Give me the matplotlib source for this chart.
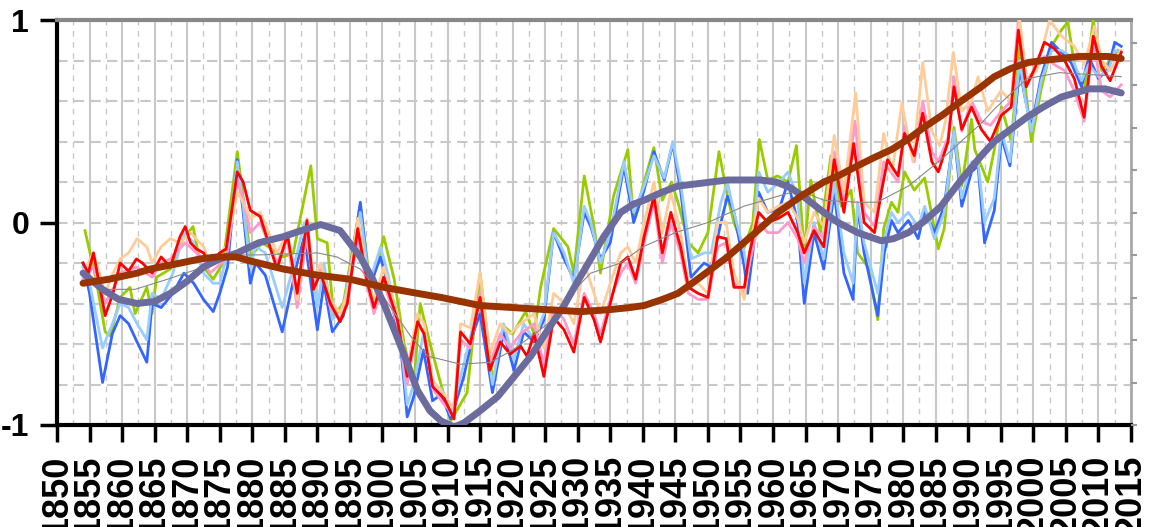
import numpy as np
import matplotlib.pyplot as plt

plt.rcParams['font.family'] = ['Liberation Sans', 'DejaVu Sans']

# Temperature anomaly series (year, value) at turning points
blue_years = [1854, 1855, 1857, 1858.5, 1859.7, 1861, 1862.3, 1863.8, 1864.6, 1866, 1867.8, 1869.5,
              1871, 1872.5, 1874, 1875, 1876.2, 1877.7, 1878.6, 1879.7, 1880.5, 1882, 1884.6, 1886.9,
              1888, 1890, 1891, 1892.3, 1894, 1896.6, 1898, 1899.7, 1900.8, 1902.8, 1903.8, 1904.8,
              1906.3, 1907.7, 1909, 1910.5, 1912.5, 1914, 1915, 1916.9, 1918.6, 1920.2, 1921.7, 1923.3,
              1924.8, 1926.3, 1927.9, 1929.4, 1931, 1932, 1933.5, 1935, 1937.1, 1938.6, 1940.2, 1941.7,
              1943.3, 1944.6, 1945.8, 1947.4, 1949.4, 1950.5, 1952, 1953, 1954, 1955.6, 1956.1, 1956.9,
              1957.8, 1959.2, 1961, 1962.3, 1963.8, 1964.8, 1966.3, 1967.8, 1969.4, 1970.9, 1972.3, 1973,
              1974, 1976.1, 1977.1, 1978.2, 1979.2, 1980.8, 1982.3, 1983.3, 1984.8, 1986.3, 1987.8, 1989,
              1990.5, 1991.5, 1992.5, 1994, 1995.1, 1996.4, 1997.9, 1998.7, 1999.7, 2001.2, 2002.8, 2004.3,
              2005.8, 2007.4, 2008.5, 2010, 2011.5, 2012.5, 2013.5]
blue = [-0.20, -0.35, -0.79, -0.55, -0.46, -0.50, -0.59, -0.69, -0.40, -0.42, -0.35, -0.25,
        -0.30, -0.38, -0.44, -0.35, -0.22, 0.31, 0.05, -0.30, -0.20, -0.26, -0.54, -0.20,
        -0.07, -0.53, -0.30, -0.54, -0.46, 0.10, -0.32, -0.17, -0.30, -0.61, -0.96, -0.86,
        -0.63, -0.88, -0.85, -0.97, -0.76, -0.54, -0.45, -0.84, -0.54, -0.73, -0.54, -0.59,
        -0.48, -0.05, -0.18, -0.28, 0.05, -0.02, -0.18, -0.10, 0.28, 0.00, 0.16, 0.35,
        0.21, 0.39, 0.16, -0.27, -0.20, -0.22, 0.00, 0.13, 0.05, -0.22, -0.35, -0.15,
        0.15, 0.05, 0.07, 0.20, 0.00, -0.40, -0.05, -0.23, 0.15, -0.25, -0.38, 0.08,
        -0.15, -0.46, -0.15, 0.01, -0.05, 0.01, -0.08, 0.06, -0.05, 0.08, 0.44, 0.08,
        0.25, 0.28, -0.10, 0.06, 0.42, 0.28, 0.76, 0.62, 0.47, 0.72, 0.89, 0.84,
        0.79, 0.67, 0.82, 0.71, 0.76, 0.89, 0.87]
lightblue = [-0.22, -0.30, -0.62, -0.50, -0.40, -0.42, -0.50, -0.58, -0.35, -0.38, -0.25, -0.05,
             -0.10, -0.25, -0.30, -0.30, -0.15, 0.30, 0.08, -0.22, -0.12, -0.15, -0.42, -0.15,
             0.00, -0.42, -0.20, -0.48, -0.42, 0.05, -0.30, -0.12, -0.25, -0.58, -0.90, -0.80,
             -0.55, -0.80, -0.82, -0.95, -0.70, -0.50, -0.38, -0.80, -0.50, -0.68, -0.50, -0.58,
             -0.45, -0.05, -0.15, -0.30, 0.08, 0.00, -0.20, -0.05, 0.30, 0.05, 0.18, 0.33,
             0.22, 0.40, 0.20, -0.18, -0.15, -0.15, 0.10, 0.20, 0.05, -0.15, -0.25, -0.10,
             0.25, 0.15, 0.20, 0.25, 0.12, -0.30, 0.00, -0.18, 0.20, -0.15, -0.30, 0.10,
             -0.10, -0.35, -0.08, 0.05, 0.00, 0.05, -0.02, 0.08, -0.08, 0.05, 0.45, 0.12,
             0.30, 0.30, 0.00, 0.12, 0.45, 0.30, 0.80, 0.62, 0.45, 0.70, 0.85, 0.85,
             0.82, 0.70, 0.78, 0.72, 0.75, 0.85, 0.84]

green_years = [1854.3, 1856, 1857.4, 1858.2, 1859.7, 1861.2, 1862, 1863.8, 1864.6, 1865.3, 1867.4, 1869.4,
               1870.9, 1872, 1874, 1875.5, 1877.7, 1878.9, 1879.7, 1881.5, 1884.8, 1886.3, 1889, 1890,
               1891.5, 1892.5, 1894, 1896.6, 1898.2, 1900.2, 1901.8, 1903.3, 1904.8, 1905.8, 1907.4, 1909,
               1910.5, 1913, 1915, 1917, 1918.6, 1920, 1922, 1923.3, 1924.3, 1926.3, 1928.5, 1929.4,
               1931, 1932.5, 1933.5, 1935.5, 1937.7, 1938.6, 1940.2, 1941.7, 1943, 1944.4, 1945.4, 1947,
               1948.5, 1950, 1951.7, 1953, 1954, 1955.5, 1956.9, 1957.9, 1959.2, 1960.7, 1962.3, 1963.6,
               1964.8, 1965.8, 1967.3, 1968.9, 1970.5, 1972, 1973, 1974.6, 1976.1, 1977, 1978.2, 1979.2,
               1980.2, 1981.7, 1983.3, 1985.4, 1986.3, 1987.8, 1989, 1990.5, 1991, 1993, 1994, 1995.1,
               1996.6, 1997.9, 1998.7, 1999.7, 2001.2, 2002.8, 2004.3, 2005.3, 2006.3, 2007.8, 2009.2, 2010.5,
               2011.8, 2013]
green = [-0.04, -0.28, -0.54, -0.56, -0.37, -0.32, -0.45, -0.32, -0.45, -0.27, -0.23, -0.08,
         -0.02, -0.20, -0.28, -0.20, 0.35, 0.05, -0.17, -0.10, -0.17, -0.15, 0.28, -0.08,
         -0.10, -0.46, -0.40, 0.09, -0.33, -0.07, -0.28, -0.59, -0.81, -0.40, -0.61, -0.80,
         -0.98, -0.84, -0.25, -0.79, -0.51, -0.55, -0.44, -0.55, -0.32, -0.03, -0.12, -0.25,
         0.23, -0.02, -0.25, 0.13, 0.36, 0.01, 0.20, 0.37, 0.11, 0.20, 0.10, -0.10,
         -0.15, -0.05, 0.35, 0.13, 0.00, -0.13, 0.00, 0.41, 0.21, 0.23, 0.20, 0.38,
         -0.15, 0.21, -0.05, 0.33, 0.08, 0.16, -0.15, -0.22, -0.48, -0.03, 0.10, 0.05,
         0.25, 0.16, 0.22, -0.13, -0.03, 0.47, 0.18, 0.51, 0.36, 0.20, 0.36, 0.57,
         0.40, 0.87, 0.69, 0.40, 0.66, 0.87, 0.95, 0.99, 0.78, 0.64, 1.00, 0.75,
         0.80, 0.85]

red_years = [1854, 1854.8, 1855.6, 1857.4, 1858.6, 1859.7, 1861, 1862.2, 1863.1, 1864.6, 1866, 1867.4,
             1868.9, 1869.7, 1870.5, 1871.4, 1872.5, 1873.5, 1875, 1876, 1877.7, 1878.6, 1879.7, 1881.2,
             1882.3, 1883.8, 1885.4, 1886.9, 1888.4, 1889.4, 1890.5, 1892, 1893.5, 1894.6, 1896.2, 1897.7,
             1898.7, 1900.2, 1902.3, 1903.8, 1905.4, 1906.4, 1907.7, 1909.5, 1911, 1912, 1913.5, 1915,
             1916.5, 1918.1, 1919.6, 1921.2, 1922.2, 1923.3, 1924.8, 1926.3, 1927.9, 1929.4, 1931, 1932.5,
             1933.5, 1935, 1936.6, 1937.7, 1938.9, 1940.2, 1941.7, 1943, 1944.3, 1945.8, 1947, 1948.5,
             1950, 1951.5, 1952.8, 1954, 1955.6, 1956.4, 1957.8, 1959.2, 1960.8, 1962.3, 1963.8, 1964.8,
             1966.3, 1967.8, 1969.4, 1970.9, 1972.4, 1974, 1975.6, 1976.7, 1977.6, 1979.2, 1980.2, 1981.7,
             1983, 1984.4, 1985.4, 1986.9, 1987.8, 1989, 1990.5, 1992, 1993.4, 1995.1, 1996.6, 1997.7,
             1998.9, 2000.2, 2001.7, 2003.2, 2004.8, 2006.3, 2007.8, 2009.2, 2010.5, 2011.8, 2013.5]
red = [-0.20, -0.25, -0.15, -0.46, -0.35, -0.20, -0.24, -0.18, -0.20, -0.25, -0.17, -0.22,
       -0.07, -0.02, -0.10, -0.13, -0.15, -0.20, -0.15, -0.13, 0.25, 0.20, 0.06, 0.03,
       -0.08, -0.23, -0.06, -0.35, 0.01, -0.33, -0.25, -0.40, -0.49, -0.40, -0.03, -0.30,
       -0.42, -0.27, -0.48, -0.76, -0.49, -0.55, -0.81, -0.87, -0.97, -0.54, -0.60, -0.37,
       -0.73, -0.59, -0.65, -0.61, -0.66, -0.55, -0.76, -0.47, -0.53, -0.64, -0.37, -0.48,
       -0.59, -0.40, -0.20, -0.17, -0.28, -0.07, 0.13, -0.15, 0.05, -0.12, -0.32, -0.35,
       -0.37, -0.07, -0.08, -0.32, -0.32, -0.15, 0.05, 0.00, 0.02, 0.05, -0.05, -0.15,
       -0.04, -0.12, 0.31, 0.05, 0.39, 0.00, -0.05, 0.16, 0.31, 0.23, 0.44, 0.33,
       0.54, 0.30, 0.25, 0.40, 0.67, 0.46, 0.57, 0.46, 0.40, 0.53, 0.57, 0.95,
       0.67, 0.76, 0.89, 0.86, 0.80, 0.71, 0.52, 0.92, 0.77, 0.70, 0.84]

pink_years = [1854, 1855.6, 1857.4, 1858.6, 1859.7, 1862.2, 1864.6, 1866, 1867.4, 1869.7, 1872.5, 1873.5,
              1876, 1877.7, 1878.6, 1879.7, 1881.2, 1883.8, 1885.4, 1886.9, 1888.4, 1889.4, 1890.5, 1892,
              1893.5, 1894.6, 1896.2, 1897.7, 1898.7, 1900.2, 1902.3, 1903.8, 1905.4, 1906.4, 1907.7, 1909.5,
              1911, 1912, 1913.5, 1915, 1916.5, 1918.1, 1919.6, 1921.2, 1923.3, 1924.8, 1926.3, 1927.9,
              1929.4, 1931, 1932.5, 1933.5, 1935, 1936.6, 1937.7, 1938.9, 1940.2, 1941.7, 1943, 1944.3,
              1945.8, 1947, 1948.5, 1950, 1951.5, 1952.8, 1954, 1955.6, 1956.4, 1957.8, 1959.2, 1960.8,
              1962.3, 1963.8, 1964.8, 1966.3, 1967.8, 1969.4, 1970.9, 1972.6, 1974, 1975.6, 1977, 1979.2,
              1980.2, 1981.7, 1983, 1984.4, 1985.4, 1986.9, 1987.8, 1989, 1990.5, 1992, 1993.4, 1995.1,
              1996.6, 1997.7, 1998.9, 2000.2, 2001.7, 2003.2, 2004.8, 2006.3, 2007.8, 2009.2, 2010.5, 2011.8,
              2013.5]
pink = [-0.28, -0.22, -0.40, -0.33, -0.25, -0.22, -0.27, -0.20, -0.18, -0.10, -0.18, -0.25,
        -0.18, 0.20, 0.12, -0.05, 0.00, -0.20, -0.08, -0.42, -0.05, -0.30, -0.22, -0.42,
        -0.48, -0.38, -0.08, -0.32, -0.45, -0.30, -0.50, -0.80, -0.50, -0.55, -0.82, -0.90,
        -0.95, -0.58, -0.62, -0.35, -0.70, -0.55, -0.62, -0.55, -0.50, -0.70, -0.42, -0.48,
        -0.60, -0.35, -0.45, -0.55, -0.38, -0.25, -0.20, -0.30, -0.10, 0.10, -0.20, 0.00,
        -0.15, -0.35, -0.38, -0.38, -0.12, -0.10, -0.30, -0.35, -0.20, 0.00, -0.05, -0.05,
        0.00, -0.08, -0.20, -0.02, -0.08, 0.35, 0.10, 0.50, 0.05, -0.02, 0.30, 0.20,
        0.48, 0.30, 0.60, 0.35, 0.30, 0.42, 0.72, 0.45, 0.60, 0.50, 0.48, 0.55,
        0.60, 1.00, 0.70, 0.75, 0.82, 0.78, 0.75, 0.65, 0.50, 0.90, 0.65, 0.62,
        0.68]

peach_years = [1854, 1855.6, 1857.4, 1858.6, 1859.7, 1861, 1862.3, 1863.8, 1864.6, 1866, 1867.4, 1868.9,
               1870.5, 1872.5, 1873.5, 1876, 1877.7, 1878.6, 1879.7, 1881.2, 1883.8, 1885.4, 1886.9, 1888.4,
               1889.4, 1890.5, 1892, 1893.5, 1894.6, 1896.2, 1897.7, 1898.7, 1900.2, 1902.3, 1903.8, 1905.4,
               1906.4, 1907.7, 1909.5, 1911, 1912, 1913.5, 1915, 1916.5, 1918.1, 1919.6, 1921.2, 1923.3,
               1924.8, 1926.3, 1927.9, 1929.4, 1931, 1932.5, 1933.5, 1935, 1936.6, 1937.7, 1938.9, 1940.2,
               1941.7, 1943, 1944.3, 1945.8, 1947, 1948.5, 1950, 1951.5, 1952.8, 1954, 1955.6, 1956.4,
               1957.8, 1959.2, 1960.8, 1962.3, 1963.8, 1964.8, 1966.3, 1967.8, 1969.4, 1970.9, 1972.7, 1974,
               1975.6, 1977, 1978.3, 1979.8, 1981.5, 1983, 1984.4, 1985.6, 1986.5, 1987.7, 1989, 1990.5,
               1991.5, 1993, 1995, 1996.6, 1997.9, 1999, 2000.5, 2002.5, 2004.3, 2006.3, 2007.8, 2009.4,
               2010.5, 2011.8, 2013.5]
peach = [-0.25, -0.15, -0.35, -0.25, -0.18, -0.15, -0.08, -0.12, -0.20, -0.12, -0.08, -0.10,
         -0.05, -0.12, -0.20, -0.12, 0.15, 0.10, 0.02, 0.05, -0.15, -0.05, -0.38, 0.02,
         -0.28, -0.20, -0.38, -0.45, -0.35, 0.02, -0.28, -0.38, -0.22, -0.45, -0.72, -0.45,
         -0.50, -0.78, -0.85, -0.92, -0.50, -0.52, -0.25, -0.65, -0.50, -0.55, -0.50, -0.45,
         -0.62, -0.35, -0.40, -0.50, -0.20, -0.35, -0.45, -0.30, -0.15, -0.12, -0.20, 0.00,
         0.20, -0.05, 0.15, -0.05, -0.30, -0.30, -0.35, 0.00, 0.00, -0.25, -0.38, -0.15,
         0.12, 0.05, 0.08, 0.10, 0.02, -0.10, 0.05, -0.02, 0.43, 0.15, 0.64, 0.10,
         0.05, 0.44, 0.25, 0.59, 0.30, 0.79, 0.45, 0.38, 0.50, 0.84, 0.55, 0.60,
         0.72, 0.55, 0.65, 0.60, 1.00, 0.70, 0.75, 1.00, 0.92, 0.87, 0.78, 0.97,
         0.80, 0.75, 0.85]

# Smoothed curves
gray_years = [1854, 1857, 1862, 1867, 1872.5, 1877.7, 1881, 1890, 1893, 1896.6, 1900, 1904.3, 1907,
              1912, 1916.6, 1920, 1923.8, 1927, 1929, 1932, 1936.6, 1940, 1945, 1950, 1955.5, 1960.8,
              1964, 1967.8, 1973, 1976, 1980.8, 1985.8, 1992, 1994, 1999, 2004, 2009, 2013.5]
gray = [-0.27, -0.33, -0.33, -0.28, -0.22, -0.16, -0.16, -0.15, -0.17, -0.23, -0.36, -0.56, -0.66,
        -0.70, -0.69, -0.63, -0.54, -0.46, -0.35, -0.25, -0.20, -0.12, -0.05, 0.00, 0.08, 0.13,
        0.16, 0.11, 0.10, 0.10, 0.18, 0.31, 0.49, 0.56, 0.71, 0.74, 0.73, 0.72]

purple_years = [1854, 1857, 1859.5, 1862.3, 1865, 1867.4, 1870, 1872.5, 1875, 1877.7, 1881, 1884.8,
                1887.5, 1890.5, 1893.5, 1896.6, 1898.5, 1900.2, 1902.8, 1905.4, 1907.3, 1909, 1911,
                1912.5, 1915, 1917.7, 1920, 1922.8, 1925, 1927.9, 1930, 1932, 1934, 1936.6, 1938.5,
                1940.2, 1943, 1945.4, 1948, 1950.5, 1953, 1955.5, 1958, 1960.5, 1962.8, 1965, 1967.8,
                1970, 1973, 1976.6, 1978.5, 1980.8, 1983, 1985.8, 1988.9, 1992, 1994, 1996.5, 1999,
                2001.5, 2004.3, 2006.5, 2008.5, 2011, 2013.5]
purple = [-0.25, -0.33, -0.38, -0.40, -0.39, -0.35, -0.29, -0.22, -0.18, -0.15, -0.10, -0.07,
          -0.04, -0.01, -0.04, -0.17, -0.28, -0.40, -0.61, -0.83, -0.93, -0.98, -1.01,
          -0.99, -0.93, -0.86, -0.77, -0.66, -0.55, -0.41, -0.29, -0.18, -0.07, 0.05, 0.09,
          0.11, 0.15, 0.18, 0.19, 0.20, 0.21, 0.21, 0.21, 0.20, 0.17, 0.12, 0.05,
          0.00, -0.05, -0.09, -0.08, -0.05, 0.00, 0.08, 0.21, 0.33, 0.40, 0.46, 0.52,
          0.57, 0.62, 0.64, 0.66, 0.66, 0.64]

brown_years = [1854, 1858, 1862.3, 1864.3, 1869, 1872, 1874.6, 1877.5, 1879.7, 1884.8, 1890, 1895,
               1900.2, 1905.4, 1909, 1915, 1920, 1925, 1930.5, 1935, 1938, 1940.2, 1943, 1945.4,
               1948, 1950.5, 1953, 1955.5, 1958, 1960.8, 1964.3, 1967.8, 1970, 1973, 1975.5, 1978.2,
               1980.7, 1983.2, 1986, 1988.5, 1992, 1994, 1996.5, 1999.2, 2001.5, 2004.3, 2007, 2009.4,
               2011.5, 2013.5]
brown = [-0.30, -0.28, -0.25, -0.23, -0.20, -0.18, -0.17, -0.17, -0.19, -0.23, -0.26, -0.28,
         -0.32, -0.35, -0.37, -0.41, -0.42, -0.43, -0.44, -0.43, -0.42, -0.41, -0.38, -0.35,
         -0.29, -0.23, -0.17, -0.10, -0.03, 0.05, 0.13, 0.20, 0.23, 0.28, 0.32, 0.36,
         0.41, 0.47, 0.53, 0.59, 0.67, 0.72, 0.76, 0.79, 0.80, 0.81, 0.82, 0.82,
         0.82, 0.81]

fig = plt.figure(figsize=(11.51, 5.27), dpi=100)
ax = fig.add_axes([57 / 1151, 1 - 425 / 527, 1074 / 1151, 405 / 527])

# Noisy series first, smooth curves on top
ax.plot(green_years, green, color='#99CC00', lw=2.0, zorder=3)
ax.plot(blue_years, blue, color='#3366FF', lw=2.0, zorder=3)
ax.plot(blue_years, lightblue, color='#99CCFF', lw=2.0, zorder=3)
ax.plot(pink_years, pink, color='#FF99CC', lw=2.0, zorder=3)
ax.plot(peach_years, peach, color='#FFCC99', lw=2.0, zorder=3)
ax.plot(red_years, red, color='#FF0000', lw=2.0, zorder=3)
ax.plot(gray_years, gray, color='#888888', lw=0.8, zorder=4)
ax.plot(purple_years, purple, color='#6B6B9E', lw=5, zorder=5, solid_capstyle='round')
ax.plot(brown_years, brown, color='#993300', lw=5, zorder=6, solid_capstyle='round')

ax.set_xlim(1850, 2015)
ax.set_ylim(-1, 1)
ax.set_xticks(range(1850, 2016, 5))
ax.set_xticks(np.arange(1852.5, 2015, 5), minor=True)
ax.set_yticks([-1, 0, 1])
ax.set_yticklabels(['-1', '0', '1'])
ax.set_yticks([-0.8, -0.6, -0.4, -0.2, 0.2, 0.4, 0.6, 0.8], minor=True)

# Grid
ax.grid(which='major', axis='x', color='#C8C8C8', lw=1.5, ls='-', zorder=0)
ax.grid(which='minor', axis='x', color='#C8C8C8', lw=1.0, ls=(0, (4, 4)), zorder=0)
ax.grid(which='both', axis='y', color='#C8C8C8', lw=1.5, ls=(0, (5, 3)), zorder=0)
ax.set_axisbelow(True)

ax.tick_params(axis='x', which='major', length=12, width=2.5, direction='out',
               labelsize=26, pad=9, labelrotation=90)
ax.tick_params(axis='y', which='major', length=12, width=2.5, direction='out',
               labelsize=23, pad=8)
ax.tick_params(which='minor', length=0)
for lbl in ax.get_xticklabels() + ax.get_yticklabels():
    lbl.set_fontweight('bold')

ax.spines['left'].set_linewidth(3)
ax.spines['bottom'].set_linewidth(3)
ax.spines['top'].set_color('#888888')
ax.spines['top'].set_linewidth(3)
ax.spines['right'].set_color('#AAAAAA')
ax.spines['right'].set_linewidth(2)

# Small secondary ticks on the right edge
ax2 = ax.twinx()
ax2.set_ylim(0, 9.53)
ax2.set_yticks(range(10))
ax2.tick_params(axis='y', length=4, width=1.5, color='#999999', labelright=False)
for s in ax2.spines.values():
    s.set_visible(False)

fig.savefig('out.png', dpi=100)
